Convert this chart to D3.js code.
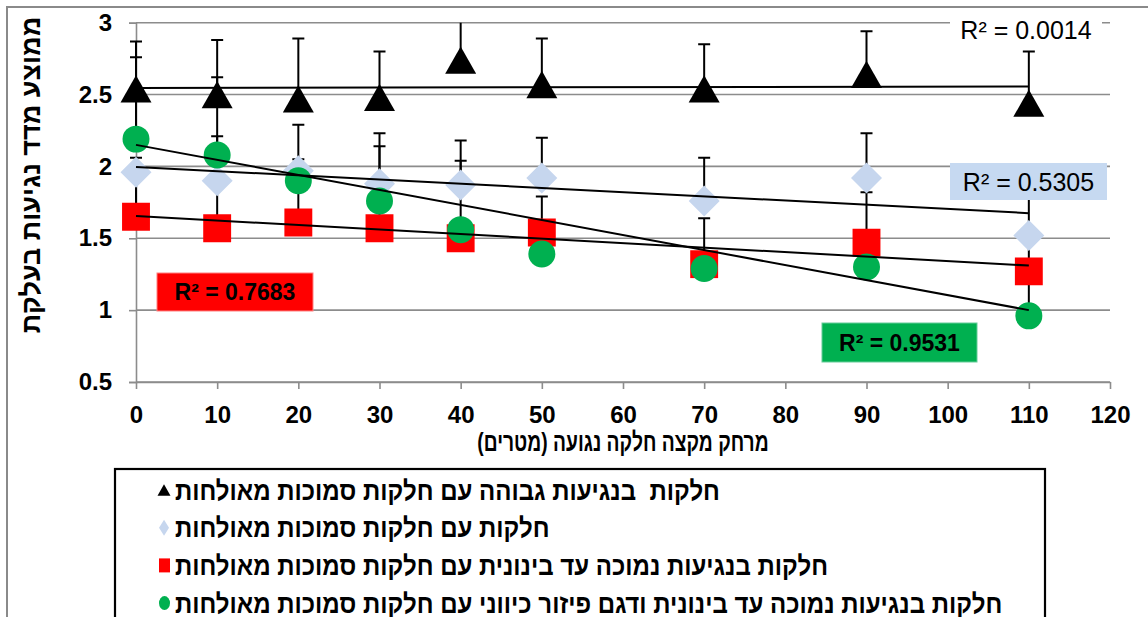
<!DOCTYPE html>
<html>
<head>
<meta charset="utf-8">
<script src="https://cdn.jsdelivr.net/npm/d3@7"></script>
<style>
  body { margin: 0; background: #fff; }
  svg { display: block; font-family: 'Liberation Sans', Arial, sans-serif; }
</style>
</head>
<body>
<svg id="chart" width="1148" height="617"></svg>
<script>
/*
 * Values
 */
var distances = [0, 10, 20, 30, 40, 50, 70, 90, 110];

var highMeans = [2.54, 2.50, 2.47, 2.48, 2.74, 2.57, 2.54, 2.64, 2.44];
var highErrors = [0.33, 0.38, 0.42, 0.32, 0.30, 0.32, 0.31, 0.30, 0.36];

var adjacentMeans = [1.96, 1.90, 1.97, 1.88, 1.87, 1.92, 1.76, 1.92, 1.52];
var adjacentErrors = [0.10, 0.31, 0.32, 0.35, 0.31, 0.28, 0.30, 0.31, 0.30];

var lowMeans = [1.65, 1.57, 1.61, 1.57, 1.50, 1.54, 1.32, 1.47, 1.27];
var lowErrors = [0.30, 0.30, 0.30, 0.20, 0.10, 0.25, 0.32, 0.35, 0.25];

var directionalMeans = [2.19, 2.08, 1.90, 1.76, 1.56, 1.39, 1.29, 1.30, 0.96];
var directionalErrors = [0.57, 0.54, 0.15, 0.38, 0.48, 0.10, 0.05, 0.10, 0.30];

// linear trendline value at first and last distance
var trendStart = [2.546, 1.996, 1.655, 2.15];
var trendEnd = [2.556, 1.675, 1.31, 1.0];
var rSquared = ['0.0014', '0.5305', '0.7683', '0.9531'];

var seriesNames = [
  'חלקות  בנגיעות גבוהה עם חלקות סמוכות מאולחות',
  'חלקות עם חלקות סמוכות מאולחות',
  'חלקות בנגיעות נמוכה עד בינונית עם חלקות סמוכות מאולחות',
  'חלקות בנגיעות נמוכה עד בינונית ודגם פיזור כיווני עם חלקות סמוכות מאולחות'
];

var xTicks = [0, 10, 20, 30, 40, 50, 60, 70, 80, 90, 100, 110, 120];
var yTicks = [0.5, 1, 1.5, 2, 2.5, 3];
var yTitle = 'ממוצע מדד נגיעות בעלקת';
var xTitle = 'מרחק מקצה חלקה נגועה (מטרים)';

/*
 * Styles per series
 */
var shapes = ['triangle', 'diamond', 'square', 'circle'];
var fills = ['#000000', '#c6d6ee', '#ff0000', '#00b050'];
var meansList = [highMeans, adjacentMeans, lowMeans, directionalMeans];
var errorsList = [highErrors, adjacentErrors, lowErrors, directionalErrors];

var series = seriesNames.map(function(name, i) {
  return {
    name: name,
    shape: shapes[i],
    fill: fills[i],
    trend: [trendStart[i], trendEnd[i]],
    points: distances.map(function(d, j) {
      return {x: d, y: meansList[i][j], err: errorsList[i][j]};
    })
  };
});

// R² label boxes (layout only)
var r2Boxes = [
  {x: 950, y: 17, w: 152, h: 26, bg: '#ffffff', stroke: 'none', bold: false},
  {x: 950, y: 163, w: 157, h: 37, bg: '#c6d9f1', stroke: 'none', bold: false},
  {x: 157, y: 273, w: 156, h: 38, bg: '#ff0000', stroke: '#ff8080', bold: true},
  {x: 822, y: 323, w: 155, h: 39, bg: '#00b050', stroke: '#66cc99', bold: true}
];

var svg = d3.select('#chart');
var margin = {top: 22.7, right: 38, bottom: 235, left: 136};
var width = 1148 - margin.left - margin.right;
var height = 617 - margin.top - margin.bottom;

var x = d3.scaleLinear().domain([0, 120]).range([margin.left, margin.left + width]);
var y = d3.scaleLinear().domain([0.5, 3]).range([margin.top + height, margin.top]);

svg.append('rect')
  .attr('width', 1148).attr('height', 617).attr('fill', '#fff');

// outer chart frame
svg.append('rect')
  .attr('x', 7).attr('y', 7)
  .attr('width', 1160).attr('height', 640)
  .attr('fill', 'none')
  .attr('stroke', '#8a8a8a')
  .attr('stroke-width', 2);

svg.append('clipPath').attr('id', 'plot-clip')
  .append('rect')
  .attr('x', margin.left - 20).attr('y', margin.top)
  .attr('width', width + 40).attr('height', height);

/*
 * Gridlines
 */
svg.append('g').selectAll('line')
  .data(yTicks)
  .enter().append('line')
  .attr('x1', margin.left).attr('x2', margin.left + width)
  .attr('y1', y).attr('y2', y)
  .attr('stroke', '#8c8c8c')
  .attr('stroke-width', 1.6);

/*
 * Axes
 */
var yAxis = svg.append('g')
  .attr('transform', 'translate(' + margin.left + ',0)')
  .call(d3.axisLeft(y).tickValues(yTicks).tickSize(7).tickPadding(17)
    .tickFormat(function(d) { return String(d); }));

var xAxis = svg.append('g')
  .attr('transform', 'translate(0,' + (margin.top + height) + ')')
  .call(d3.axisBottom(x).tickValues(xTicks).tickSize(7).tickPadding(17)
    .tickSizeOuter(0));

[yAxis, xAxis].forEach(function(axis) {
  axis.select('.domain').attr('stroke', '#8c8c8c').attr('stroke-width', 1.6);
  axis.selectAll('.tick line').attr('stroke', '#8c8c8c').attr('stroke-width', 1.6);
  axis.selectAll('.tick text')
    .attr('fill', '#000')
    .attr('font-size', 24)
    .attr('font-weight', 'bold')
    .attr('font-family', "'Liberation Sans', Arial, sans-serif");
});

svg.append('text')
  .attr('transform', 'translate(40,' + 175 + ') rotate(-90)')
  .attr('direction', 'rtl')
  .attr('text-anchor', 'middle')
  .attr('font-size', 27)
  .attr('font-weight', 'bold')
  .text(yTitle);

svg.append('text')
  .attr('transform', 'translate(623,451) scale(0.74,1)')
  .attr('direction', 'rtl')
  .attr('text-anchor', 'middle')
  .attr('font-size', 26)
  .attr('font-weight', 'bold')
  .text(xTitle);

/*
 * Error bars (plus direction)
 */
var plot = svg.append('g').attr('clip-path', 'url(#plot-clip)');

series.forEach(function(s) {
  var bars = plot.append('g')
    .attr('stroke', '#000')
    .attr('stroke-width', 2)
    .selectAll('g')
    .data(s.points)
    .enter().append('g');

  bars.append('line')
    .attr('x1', function(d) { return x(d.x); })
    .attr('x2', function(d) { return x(d.x); })
    .attr('y1', function(d) { return y(d.y); })
    .attr('y2', function(d) { return y(d.y + d.err); });

  bars.append('line')
    .attr('x1', function(d) { return x(d.x) - 6; })
    .attr('x2', function(d) { return x(d.x) + 6; })
    .attr('y1', function(d) { return y(d.y + d.err); })
    .attr('y2', function(d) { return y(d.y + d.err); });
});

/*
 * Markers
 */
function markerPath(shape, cx, cy, s) {
  var h = s / 2;
  if (shape === 'triangle') {
    return 'M' + cx + ',' + (cy - h * 0.88) +
      'L' + (cx + h) + ',' + (cy + h * 0.88) +
      'L' + (cx - h) + ',' + (cy + h * 0.88) + 'Z';
  }
  if (shape === 'diamond') {
    return 'M' + cx + ',' + (cy - h) +
      'L' + (cx + h) + ',' + cy +
      'L' + cx + ',' + (cy + h) +
      'L' + (cx - h) + ',' + cy + 'Z';
  }
  if (shape === 'square') {
    var q = h * 0.9;
    return 'M' + (cx - q) + ',' + (cy - q) + 'h' + (2 * q) + 'v' + (2 * q) + 'h' + (-2 * q) + 'Z';
  }
  var r = h * 0.87;
  return 'M' + (cx - r) + ',' + cy + 'a' + r + ',' + r + ' 0 1,0 ' + (2 * r) + ',0' +
    'a' + r + ',' + r + ' 0 1,0 ' + (-2 * r) + ',0Z';
}

series.forEach(function(s) {
  plot.append('g').selectAll('path')
    .data(s.points)
    .enter().append('path')
    .attr('d', function(d) { return markerPath(s.shape, x(d.x), y(d.y), 31); })
    .attr('fill', s.fill);
});

/*
 * Linear trendlines
 */
var trendLine = d3.line()
  .x(function(d) { return x(d[0]); })
  .y(function(d) { return y(d[1]); });

series.forEach(function(s) {
  var first = distances[0];
  var last = distances[distances.length - 1];
  svg.append('path')
    .attr('d', trendLine([[first, s.trend[0]], [last, s.trend[1]]]))
    .attr('fill', 'none')
    .attr('stroke', '#000')
    .attr('stroke-width', 2);
});

/*
 * R squared labels
 */
r2Boxes.forEach(function(b, i) {
  svg.append('rect')
    .attr('x', b.x).attr('y', b.y)
    .attr('width', b.w).attr('height', b.h)
    .attr('fill', b.bg)
    .attr('stroke', b.stroke);
  svg.append('text')
    .attr('x', b.x + b.w / 2)
    .attr('y', b.y + b.h / 2)
    .attr('dy', '0.36em')
    .attr('text-anchor', 'middle')
    .attr('font-size', b.bold ? 23 : 25)
    .attr('font-weight', b.bold ? 'bold' : 'normal')
    .attr('fill', '#000')
    .text('R² = ' + rSquared[i]);
});

/*
 * Legend
 */
var legend = svg.append('g');
legend.append('rect')
  .attr('x', 115).attr('y', 469)
  .attr('width', 930).attr('height', 170)
  .attr('fill', '#fff')
  .attr('stroke', '#000')
  .attr('stroke-width', 2.2);

var rows = legend.selectAll('.row')
  .data(series)
  .enter().append('g')
  .attr('class', 'row')
  .attr('transform', function(d, i) { return 'translate(0,' + (490 + i * 37.7) + ')'; });

rows.append('path')
  .attr('d', function(d) {
    if (d.shape === 'triangle') return markerPath('triangle', 164, 0, 13);
    if (d.shape === 'diamond') return 'M164,-8L169,0L164,8L159,0Z';
    if (d.shape === 'square') return 'M159,-7h11v14h-11Z';
    return 'M159,0a5.5,7 0 1,0 11,0a5.5,7 0 1,0 -11,0Z';
  })
  .attr('fill', function(d) { return d.fill; });

rows.append('text')
  .attr('transform', 'translate(175,0) scale(0.89,1)')
  .attr('dy', '0.36em')
  .attr('direction', 'rtl')
  .attr('text-anchor', 'end')
  .attr('font-size', 27)
  .attr('font-weight', 'bold')
  .style('white-space', 'pre')
  .text(function(d) { return d.name; });
</script>
</body>
</html>
